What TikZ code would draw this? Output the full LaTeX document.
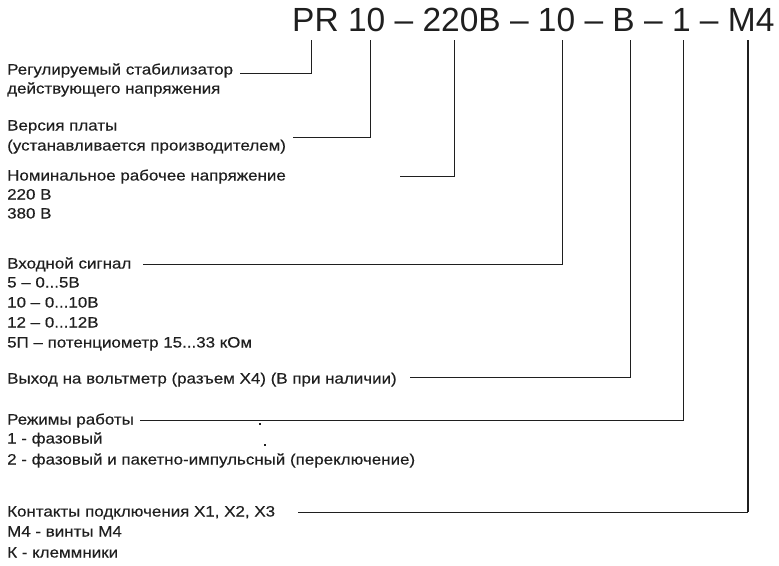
\documentclass[tikz,border=0pt]{standalone}
\usepackage{fontspec}
\setmainfont{Liberation Sans}
\newfontfamily\lblfont[FakeStretch=1.13,FakeBold=0.35]{Liberation Sans}
\begin{document}
\begin{tikzpicture}[x=1pt,y=-1pt,
  lbl/.style={anchor=base west, inner sep=0pt, text=black!88, font=\lblfont\fontsize{15}{17}\selectfont},
  ttl/.style={anchor=base west, inner sep=0pt, text=black!88, font=\fontsize{33.5}{36}\selectfont},
  conn/.style={draw=black!88, line width=0.9pt},
  thickconn/.style={draw=black!88, line width=1.7pt},
  speck/.style={fill=black!88}]
\useasboundingbox (0,0) rectangle (779,565);
\node[ttl] (title) at (292,31) {PR 10 – 220В – 10 – В – 1 – М4};
% line tops
\coordinate (t1) at (311,40);
\coordinate (t2) at (370,40);
\coordinate (t3) at (454,40);
\coordinate (t4) at (562,40);
\coordinate (t5) at (630,40);
\coordinate (t6) at (683,40);
\coordinate (t7) at (748,40);
% labels
\node[lbl] (a1) at (7,74.5) {Регулируемый стабилизатор};
\node[lbl] (a2) at (7,93.5) {действующего напряжения};
\node[lbl] (b1) at (7,130.5) {Версия платы};
\node[lbl] (b2) at (7,150.5) {(устанавливается производителем)};
\node[lbl] (c1) at (7,180.5) {Номинальное рабочее напряжение};
\node[lbl] (c2) at (7,199.5) {220 В};
\node[lbl] (c3) at (7,218.5) {380 В};
\node[lbl] (d1) at (7,268.5) {Входной сигнал};
\node[lbl] (d2) at (7,287.5) {5 – 0...5В};
\node[lbl] (d3) at (7,307.5) {10 – 0...10В};
\node[lbl] (d4) at (7,327.5) {12 – 0...12В};
\node[lbl] (d5) at (7,347.5) {5П – потенциометр 15...33 кОм};
\node[lbl] (e1) at (7,383.5) {Выход на вольтметр (разъем Х4) (В при наличии)};
\node[lbl] (f1) at (7,424.5) {Режимы работы};
\node[lbl] (f2) at (7,443.5) {1 - фазовый};
\node[lbl] (f3) at (7,464.5) {2 - фазовый и пакетно-импульсный (переключение)};
\node[lbl] (g1) at (7,516.5) {Контакты подключения Х1, Х2, Х3};
\node[lbl] (g2) at (7,536.5) {М4 - винты М4};
\node[lbl] (g3) at (7,557.5) {К - клеммники};
% connector starts
\coordinate (s1) at (240,73);
\coordinate (s2) at (293,137);
\coordinate (s3) at (400,176);
\coordinate (s4) at (143,264);
\coordinate (s5) at (410,377);
\coordinate (s6) at (140,420.5);
\coordinate (s7) at (298,512);
\coordinate (c7) at (748,512);
\draw[conn] (s1) -| (t1);
\draw[conn] (s2) -| (t2);
\draw[conn] (s3) -| (t3);
\draw[conn] (s4) -| (t4);
\draw[conn] (s5) -| (t5);
\draw[conn] (s6) -| (t6);
\draw[conn] (s7) -- (c7);
\draw[thickconn] (c7) -- (t7);
% specks
\fill[speck] (259.3,423.3) rectangle (260.7,425.3);
\fill[speck] (264,444) rectangle (266,445.5);
\end{tikzpicture}
\end{document}
